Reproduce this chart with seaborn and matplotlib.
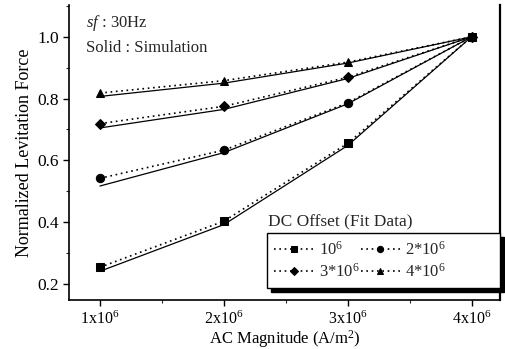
import numpy as np
import pandas as pd
import matplotlib
matplotlib.use("Agg")
import matplotlib.pyplot as plt
import seaborn as sns
from matplotlib.ticker import MultipleLocator
from matplotlib.lines import Line2D

sns.set_theme(style="ticks")
plt.rcParams['font.family'] = ['Liberation Serif', 'DejaVu Serif']
plt.rcParams['mathtext.fontset'] = 'custom'
plt.rcParams['mathtext.rm'] = 'Liberation Serif'
plt.rcParams['mathtext.it'] = 'Liberation Serif:italic'

# AC magnitude (x 10^6 A/m^2)
ac = [1, 2, 3, 4]
series_labels = ['$10^6$', '$2$*$10^6$', '$3$*$10^6$', '$4$*$10^6$']
markers = ['s', 'o', 'D', '^']

# Fit data (dotted, with markers)
fit_1 = [0.254, 0.403, 0.655, 1.0]
fit_2 = [0.542, 0.633, 0.786, 1.0]
fit_3 = [0.719, 0.775, 0.869, 1.0]
fit_4 = [0.818, 0.858, 0.918, 1.0]

# Simulation (solid)
sim_1 = [0.241, 0.392, 0.648, 1.0]
sim_2 = [0.517, 0.625, 0.783, 1.0]
sim_3 = [0.705, 0.765, 0.865, 1.0]
sim_4 = [0.807, 0.850, 0.915, 1.0]

fits = [fit_1, fit_2, fit_3, fit_4]
sims = [sim_1, sim_2, sim_3, sim_4]

xticks = [1, 2, 3, 4]
xticklabels = ['1x10$^6$', '2x10$^6$', '3x10$^6$', '4x10$^6$']
yticks = [0.2, 0.4, 0.6, 0.8, 1.0]

fig = plt.figure(figsize=(5.06, 3.49), dpi=100)
ax = fig.add_axes([69/506, 1-300/349, (500-69)/506, (300-5)/349])

handles = []
for lab, mk, f, s in zip(series_labels, markers, fits, sims):
    df_s = pd.DataFrame({'x': ac, 'y': s})
    sns.lineplot(data=df_s, x='x', y='y', ax=ax, color='black', linewidth=0.9,
                 linestyle='-', legend=False)
    df_f = pd.DataFrame({'x': ac, 'y': f})
    sns.lineplot(data=df_f, x='x', y='y', ax=ax, color='black', linewidth=1.2,
                 linestyle=(0, (1, 2.2)), marker=mk,
                 markersize=5.2 if mk == 'D' else 6,
                 markeredgecolor='black', markerfacecolor='black', legend=False)
    handles.append(ax.lines[-1])

ax.set_xlim(0.75, 4.23)
ax.set_ylim(0.148, 1.103)
ax.set_xticks(xticks)
ax.set_xticklabels(xticklabels, fontsize=11.5)
ax.set_yticks(yticks)
ax.set_yticklabels([f'{v:.1f}' for v in yticks], fontsize=12.5)
ax.xaxis.set_minor_locator(MultipleLocator(0.5))
ax.yaxis.set_minor_locator(MultipleLocator(0.1))
ax.tick_params(axis='both', which='major', direction='out', length=4.5, width=1,
               colors='black', pad=3)
ax.tick_params(axis='both', which='minor', direction='out', length=2.2, width=0.8)
for side in ['left', 'bottom', 'right']:
    ax.spines[side].set_color('black')
    ax.spines[side].set_linewidth(1.2)
ax.spines['top'].set_visible(False)
ax.spines['right'].set_linewidth(1.6)

ax.set_xlabel('AC Magnitude (A/m$^2$)', fontsize=12, color='black', labelpad=0)
ax.set_ylabel('Normalized Levitation Force', fontsize=13, color='black', labelpad=3)

ax.text(0.04, 0.94, '$\\mathit{sf}$ : 30Hz', transform=ax.transAxes, fontsize=12,
        va='center', ha='left')
ax.text(0.04, 0.855, 'Solid : Simulation', transform=ax.transAxes, fontsize=12,
        va='center', ha='left')

# legend box: x 267..497 px, y 233..288 px
lx0 = (267 - 69) / 431
ly0 = (300 - 288) / 295
ly1 = (300 - 233) / 295
blank = Line2D([], [], linestyle='none', marker='none')
order = [0, 2, 1, 3]
leg_handles = [handles[i] for i in order] + [blank, blank]
leg_labels = [series_labels[i] for i in order] + ['', '']
leg = ax.legend(leg_handles, leg_labels,
                ncol=3, loc='lower left',
                bbox_to_anchor=(lx0, ly0),
                fontsize=12, frameon=True, fancybox=False,
                shadow={'color': 'black', 'alpha': 1.0, 'ox': 3, 'oy': -3},
                handlelength=2.3, handletextpad=0.35, columnspacing=0.1,
                borderpad=0.45, borderaxespad=0, labelspacing=0.25, markerscale=0.75)
leg.get_frame().set_edgecolor('black')
leg.get_frame().set_linewidth(1.0)
ax.text(lx0 + 0.002, ly1 + 0.01, 'DC Offset (Fit Data)', transform=ax.transAxes,
        fontsize=12.5, ha='left', va='bottom')

fig.savefig('out.png', dpi=100)
